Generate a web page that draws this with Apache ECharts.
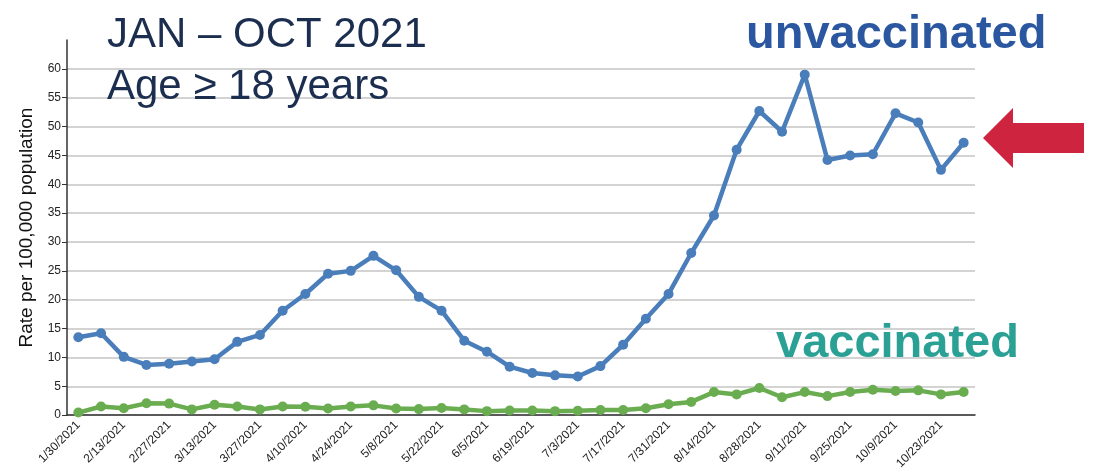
<!DOCTYPE html>
<html>
<head>
<meta charset="utf-8">
<script src="https://cdn.jsdelivr.net/npm/echarts@6/dist/echarts.min.js"></script>
<style>
html,body{margin:0;padding:0;background:#fff;}
#chart{width:1094px;height:472px;}
</style>
</head>
<body>
<div id="chart"></div>
<script>
const weeks = [
  '1/30/2021','2/6/2021','2/13/2021','2/20/2021','2/27/2021','3/6/2021','3/13/2021','3/20/2021',
  '3/27/2021','4/3/2021','4/10/2021','4/17/2021','4/24/2021','5/1/2021','5/8/2021','5/15/2021',
  '5/22/2021','5/29/2021','6/5/2021','6/12/2021','6/19/2021','6/26/2021','7/3/2021','7/10/2021',
  '7/17/2021','7/24/2021','7/31/2021','8/7/2021','8/14/2021','8/21/2021','8/28/2021','9/4/2021',
  '9/11/2021','9/18/2021','9/25/2021','10/2/2021','10/9/2021','10/16/2021','10/23/2021','10/30/2021'
];
const unvaccinated = [
  13.5, 14.2, 10.1, 8.7, 8.9, 9.3, 9.7, 12.7, 13.9, 18.1,
  21.0, 24.5, 25.0, 27.6, 25.1, 20.5, 18.1, 12.9, 11.0, 8.4,
  7.3, 6.9, 6.7, 8.5, 12.2, 16.7, 21.0, 28.1, 34.6, 46.0,
  52.7, 49.1, 59.0, 44.2, 45.0, 45.2, 52.3, 50.7, 42.5, 47.2
];
const vaccinated = [
  0.45, 1.5, 1.2, 2.05, 2.0, 1.0, 1.8, 1.5, 1.0, 1.5,
  1.45, 1.15, 1.5, 1.7, 1.15, 1.05, 1.25, 1.0, 0.7, 0.8,
  0.8, 0.7, 0.75, 0.9, 0.9, 1.2, 1.9, 2.3, 4.0, 3.6,
  4.7, 3.1, 4.0, 3.3, 4.0, 4.4, 4.2, 4.3, 3.6, 4.0
];
const yAxisName = 'Rate per 100,000 population';
const titleLine1 = 'JAN \u2013 OCT 2021';
const titleLine2 = 'Age \u2265 18 years';
const labelUnvax = 'unvaccinated';
const labelVax = 'vaccinated';

const FONT = 'Liberation Sans, Arial, sans-serif';
const chart = echarts.init(document.getElementById('chart'));
chart.setOption({
  animation: false,
  backgroundColor: '#ffffff',
  grid: { left: 67, right: 119, top: 40, bottom: 56, containLabel: false },
  xAxis: {
    type: 'category',
    data: weeks,
    boundaryGap: true,
    axisLine: { lineStyle: { color: '#333', width: 1.5 } },
    axisTick: { alignWithLabel: true, interval: 0, length: 5, lineStyle: { color: '#333' } },
    axisLabel: {
      interval: 1, rotate: 45, fontSize: 12, color: '#222', margin: 8, fontFamily: FONT
    },
    splitLine: { show: false }
  },
  yAxis: {
    type: 'value',
    min: 0, max: 65, interval: 5,
    name: yAxisName,
    nameLocation: 'middle',
    nameGap: 27,
    nameRotate: 90,
    nameTextStyle: { fontSize: 19, color: '#111', fontFamily: FONT },
    axisLine: { show: true, lineStyle: { color: '#333', width: 1.5 } },
    axisTick: { show: true, length: 5, lineStyle: { color: '#333' } },
    axisLabel: {
      fontSize: 12, color: '#222', margin: 6, showMaxLabel: false, fontFamily: FONT
    },
    splitLine: { show: true, showMaxLine: false, lineStyle: { color: '#c4c4c4', width: 1.5 } }
  },
  series: [
    {
      name: labelUnvax, type: 'line', data: unvaccinated,
      symbol: 'circle', symbolSize: 10,
      lineStyle: { color: '#4a7ebb', width: 4.5 },
      itemStyle: { color: '#4a7ebb' },
      z: 3
    },
    {
      name: labelVax, type: 'line', data: vaccinated,
      symbol: 'circle', symbolSize: 10,
      lineStyle: { color: '#6aad50', width: 4.5 },
      itemStyle: { color: '#6aad50' },
      z: 2
    }
  ],
  graphic: [
    { type: 'text', left: 107, top: 14, z: 10,
      style: { text: titleLine1, fontSize: 42, fill: '#1c2e4f', fontFamily: FONT } },
    { type: 'text', left: 107, top: 66, z: 10,
      style: { text: titleLine2, fontSize: 42, fill: '#1c2e4f', fontFamily: FONT } },
    { type: 'text', left: 746, top: 12, z: 10,
      style: { text: labelUnvax, fontSize: 47, fontWeight: 'bold', fill: '#2a57a0', fontFamily: FONT } },
    { type: 'text', left: 776, top: 321, z: 10,
      style: { text: labelVax, fontSize: 47, fontWeight: 'bold', fill: '#2ba195', fontFamily: FONT } },
    { type: 'polygon', z: 10,
      shape: { points: [[983,138],[1013,108],[1013,123],[1084,123],[1084,153],[1013,153],[1013,168]] },
      style: { fill: '#cf2440' } }
  ]
});
</script>
</body>
</html>
